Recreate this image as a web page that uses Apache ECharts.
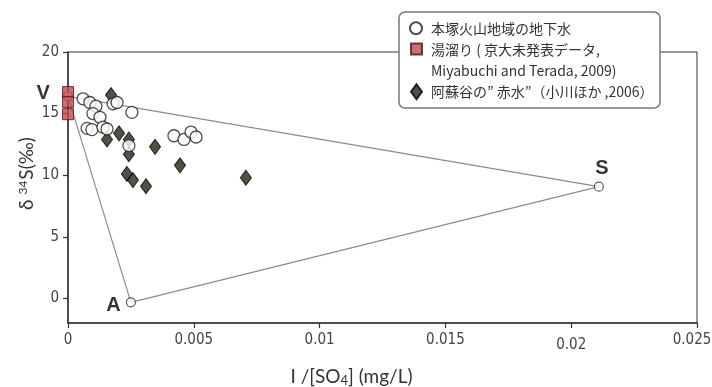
<!DOCTYPE html>
<html>
<head>
<meta charset="utf-8">
<script src="https://cdn.jsdelivr.net/npm/echarts@6/dist/echarts.min.js"></script>
<style>
  html, body { margin: 0; padding: 0; background: #fff; }
  #chart { width: 712px; height: 387px; }
</style>
</head>
<body>
<div id="chart"></div>
<script>
// Groundwater of the Motozuka volcanic area (open circles)
const groundwaterX = [0.00060, 0.00087, 0.00111, 0.00099, 0.00127, 0.00076, 0.00095, 0.00139, 0.00155,
                      0.00179, 0.00195, 0.00254, 0.00242, 0.00421, 0.00461, 0.00489, 0.00509];
const groundwaterY = [16.2, 15.9, 15.6, 15.0, 14.7, 13.8, 13.7, 13.9, 13.75,
                      15.8, 15.9, 15.1, 12.4, 13.2, 12.9, 13.5, 13.1];

// Hot-spring pool samples (red squares)
const poolX = [0, 0, 0];
const poolY = [16.75, 15.95, 14.95];

// "Red water" of the Aso valley (diamonds)
const redWaterX = [0.00171, 0.00203, 0.00155, 0.00242, 0.00242, 0.00346, 0.00445, 0.00234, 0.00258, 0.00310, 0.00707];
const redWaterY = [16.5, 13.4, 12.9, 12.9, 11.7, 12.3, 10.8, 10.1, 9.6, 9.1, 9.8];

// Mixing end-members V, S, A
const endNames = ['V', 'S', 'A'];
const endX = [0, 0.0211, 0.0025];
const endY = [16.4, 9.07, -0.32];

// Axis ticks
const xTicks = [0, 0.005, 0.01, 0.015, 0.02, 0.025];
const xTickLabels = ['0', '0.005', '0.01', '0.015', '0.02', '0.025'];
const yTicks = [0, 5, 10, 15, 20];

const seriesNames = [
  '本塚火山地域の地下水',
  '湯溜り ( 京大未発表データ,\nMiyabuchi and Terada, 2009)',
  '阿蘇谷の” 赤水”（小川ほか ,2006）'
];

const zip = (xs, ys) => xs.map((x, i) => [x, ys[i]]);

// Triangle V -> S -> A -> V
const triangle = [0, 1, 2, 0].map(i => [endX[i], endY[i]]);

const endLabelPlacement = {
  V: { position: 'left', distance: 13, offset: [0, -3] },
  S: { position: 'top', distance: 3, offset: [3, 0] },
  A: { position: 'left', distance: 5, offset: [0, 3] }
};

const endData = endNames.map((n, i) => ({
  name: n,
  value: [endX[i], endY[i]],
  label: Object.assign({ show: true, formatter: n }, endLabelPlacement[n])
}));

const axisFont = '"Liberation Sans Narrow","DejaVu Sans Condensed","Liberation Sans",sans-serif';
const titleFont = 'Lato, "Open Sans", sans-serif';
const legendFont = '"Noto Sans CJK JP", "Noto Sans", sans-serif';

const legendText = {
  color: '#333',
  fontSize: 14,
  fontFamily: legendFont,
  lineHeight: 21.5,
  padding: [0, 0, 0, 4]
};

const tickText = { color: '#444', fontSize: 15, fontFamily: axisFont };

const chart = echarts.init(document.getElementById('chart'), null, { renderer: 'canvas' });

chart.setOption({
  animation: false,
  backgroundColor: '#fff',
  grid: {
    left: 68, right: 15, top: 52, bottom: 64,
    outerBoundsMode: 'none',
    containLabel: false,
    show: true, borderColor: '#333', borderWidth: 1, backgroundColor: 'transparent'
  },
  xAxis: {
    type: 'value',
    min: 0, max: 0.025, interval: 0.005,
    axisLine: { onZero: false, lineStyle: { color: '#333', width: 1.5 } },
    axisTick: { show: true, length: 5, lineStyle: { color: '#333', width: 1.2 } },
    splitLine: { show: false },
    axisLabel: Object.assign({
      margin: 10,
      formatter: v => {
        const i = xTicks.findIndex(t => Math.abs(t - v) < 1e-9);
        if (i < 0) return '';
        if (i === xTicks.length - 1) return '{last|' + xTickLabels[i] + '}';
        if (i === xTicks.length - 2) return '{low|' + xTickLabels[i] + '}';
        return xTickLabels[i];
      },
      rich: {
        last: Object.assign({ padding: [0, 10, 0, 0] }, tickText),
        low: Object.assign({ padding: [5, 0, 0, 0] }, tickText)
      }
    }, tickText),
    name: '{t|I /[SO}{s|4}{t|] (mg/L)}',
    nameLocation: 'middle',
    nameGap: 42,
    nameMoveOverlap: false,
    nameTextStyle: {
      padding: [0, 62, 0, 0],
      rich: {
        t: { fontSize: 19, color: '#333', fontFamily: titleFont, lineHeight: 24 },
        s: { fontSize: 13, color: '#333', fontFamily: titleFont, lineHeight: 24, padding: [8, 0, 0, 0] }
      }
    }
  },
  yAxis: {
    type: 'value',
    min: -2, max: 20,
    axisLine: { show: true, onZero: false, lineStyle: { color: '#333', width: 1.5 } },
    axisTick: { show: true, length: 5, customValues: yTicks, lineStyle: { color: '#333', width: 1.2 } },
    splitLine: { show: false },
    axisLabel: Object.assign({ customValues: yTicks, margin: 9 }, tickText),
    name: '{t|δ }{p|34}{t|S(‰)}',
    nameLocation: 'middle',
    nameRotate: 90,
    nameGap: 29,
    nameMoveOverlap: false,
    nameTextStyle: {
      padding: [0, 0, 0, 28],
      rich: {
        t: { fontSize: 19, color: '#333', fontFamily: titleFont, lineHeight: 24 },
        p: { fontSize: 12, color: '#333', fontFamily: titleFont, lineHeight: 24, padding: [0, 1, 8, 0] }
      }
    }
  },
  graphic: [{
    type: 'rect',
    z: 3,
    shape: { x: 399, y: 12, width: 261, height: 96, r: 6 },
    style: { fill: '#fff', stroke: '#777', lineWidth: 1.5 }
  }],
  legend: [
    {
      data: [seriesNames[0]], selectedMode: false, orient: 'vertical',
      left: 409, top: 17.5, padding: 0,
      itemWidth: 12, itemHeight: 12,
      textStyle: legendText
    },
    {
      data: [{ name: seriesNames[1], icon: 'path://M0 0M0 5L11 5L11 16L0 16ZM11 43' }],
      selectedMode: false, orient: 'vertical',
      left: 410, top: 37.5, padding: 0,
      itemWidth: 11, itemHeight: 43,
      textStyle: legendText
    },
    {
      data: [seriesNames[2]], selectedMode: false, orient: 'vertical',
      left: 410, top: 81, padding: 0,
      itemWidth: 11, itemHeight: 15,
      textStyle: legendText
    }
  ],
  series: [
    {
      name: 'mixing',
      type: 'line',
      data: triangle,
      symbol: 'none',
      silent: true,
      lineStyle: { color: '#8c8c8c', width: 1.2 },
      z: 1
    },
    {
      name: 'end-members',
      type: 'scatter',
      data: endData,
      symbol: 'circle',
      symbolSize: 9,
      itemStyle: { color: '#fff', borderColor: '#333', borderWidth: 1.2 },
      label: {
        color: '#000',
        fontSize: 20,
        fontWeight: 'bold',
        fontFamily: '"Liberation Sans", Arial, sans-serif'
      }
    },
    {
      name: seriesNames[2],
      type: 'scatter',
      data: zip(redWaterX, redWaterY),
      symbol: 'diamond',
      symbolSize: [11, 15],
      itemStyle: { color: '#232816', borderColor: '#000', borderWidth: 1 }
    },
    {
      name: seriesNames[0],
      type: 'scatter',
      data: zip(groundwaterX, groundwaterY),
      symbol: 'circle',
      symbolSize: 12,
      itemStyle: { color: '#fff', borderColor: '#222', borderWidth: 1.3 }
    },
    {
      name: seriesNames[1],
      type: 'scatter',
      data: zip(poolX, poolY),
      symbol: 'rect',
      symbolSize: 11,
      itemStyle: { color: '#c3484b', borderColor: '#4a1a1a', borderWidth: 1 }
    }
  ]
});
</script>
</body>
</html>
